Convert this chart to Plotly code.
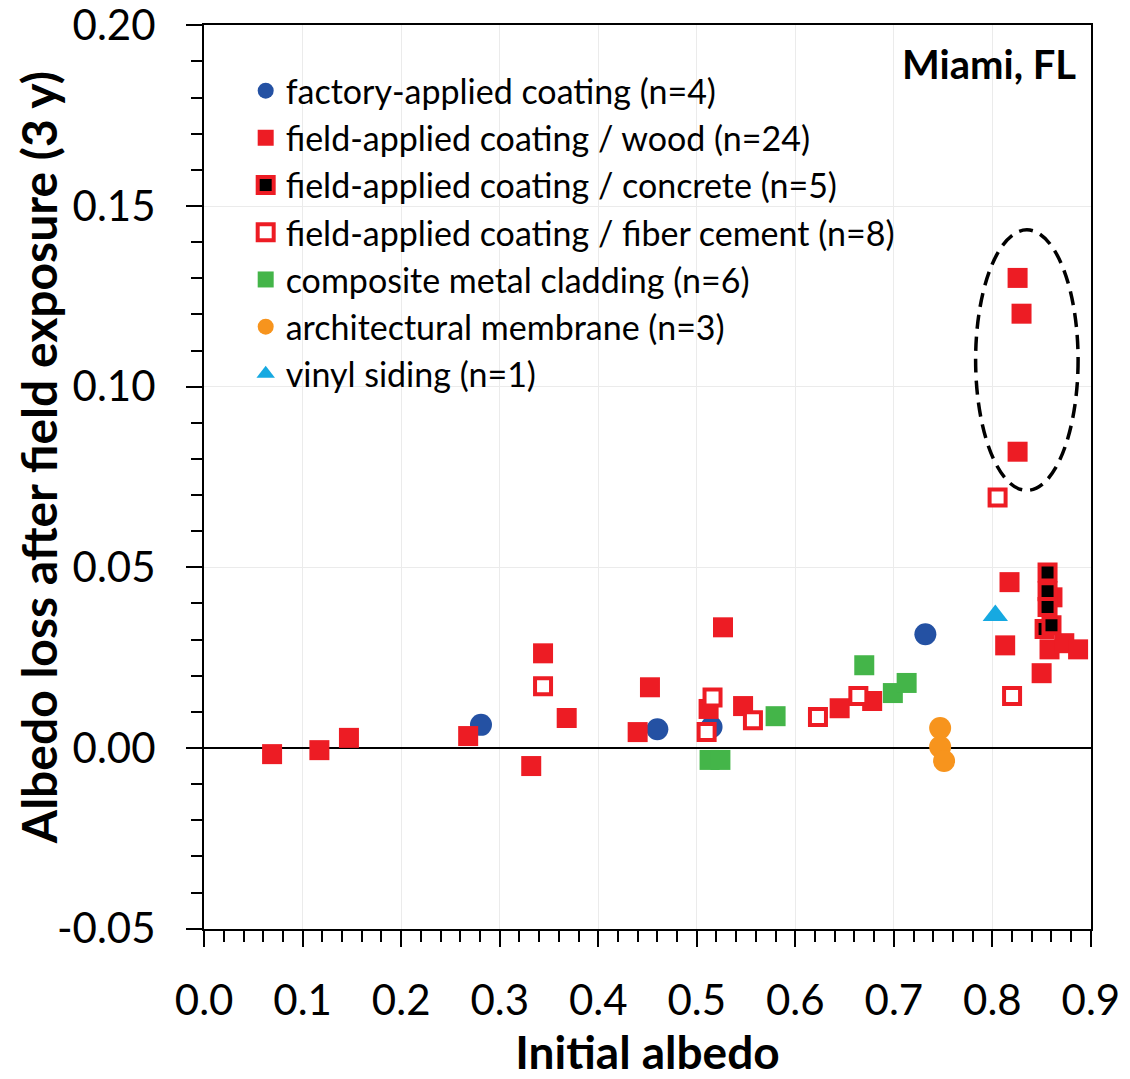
import plotly.graph_objects as go

# ---------------- data ----------------
factory_x = [0.281, 0.460, 0.515, 0.732]
factory_y = [0.0064, 0.0052, 0.0058, 0.0315]

wood_x = [0.069, 0.117, 0.147, 0.268, 0.332, 0.344, 0.368, 0.440, 0.4525, 0.512, 0.5266, 0.547,
          0.645, 0.678, 0.8256, 0.8296, 0.8256, 0.8174, 0.813, 0.861, 0.858, 0.873, 0.887, 0.850]
wood_y = [-0.0017, -0.0006, 0.0028, 0.0033, -0.0050, 0.0262, 0.0083, 0.0044, 0.0168, 0.0108, 0.0334, 0.0116,
          0.0110, 0.0130, 0.1301, 0.1202, 0.0820, 0.0459, 0.0284, 0.0417, 0.0273, 0.0290, 0.0273, 0.0207]

concrete_x = [0.856, 0.856, 0.856, 0.853, 0.860]
concrete_y = [0.0486, 0.0434, 0.0390, 0.0329, 0.0340]

fiber_x = [0.344, 0.516, 0.510, 0.557, 0.623, 0.664, 0.8053, 0.820]
fiber_y = [0.0171, 0.0140, 0.0044, 0.0077, 0.0086, 0.0144, 0.0693, 0.0144]

metal_x = [0.513, 0.524, 0.580, 0.670, 0.699, 0.713]
metal_y = [-0.0033, -0.0033, 0.0088, 0.0229, 0.0152, 0.0180]

membrane_x = [0.747, 0.747, 0.751]
membrane_y = [0.0055, 0.0003, -0.0036]

vinyl_x = [0.803]
vinyl_y = [0.0367]

x_ticks = [0.0, 0.1, 0.2, 0.3, 0.4, 0.5, 0.6, 0.7, 0.8, 0.9]
x_ticktext = ["0.0", "0.1", "0.2", "0.3", "0.4", "0.5", "0.6", "0.7", "0.8", "0.9"]
y_ticks = [-0.05, 0.00, 0.05, 0.10, 0.15, 0.20]
y_ticktext = ["-0.05", "0.00", "0.05", "0.10", "0.15", "0.20"]

# ---------------- figure ----------------
RED = "#ED1C24"
BLUE = "#2451A3"
GREEN = "#44B549"
ORANGE = "#F7941D"
CYAN = "#16A9E1"
FONT = "Lato"

fig = go.Figure()

def add(x, y, name, symbol, color, size, line_color=None, line_width=0):
    fig.add_trace(go.Scatter(
        x=x, y=y, mode="markers", name=name, legendgroup=name,
        marker=dict(symbol=symbol, color=color, size=size,
                    line=dict(color=line_color or color, width=line_width)),
        cliponaxis=False,
    ))

add(factory_x, factory_y, "factory-applied coating (n=4)", "circle", BLUE, 22)
add(wood_x, wood_y, "field-applied coating / wood (n=24)", "square", RED, 20)
add(concrete_x, concrete_y, "field-applied coating / concrete (n=5)", "square", "black", 16, RED, 4)
add(fiber_x, fiber_y, "field-applied coating / fiber cement (n=8)", "square", "white", 16, RED, 4)
add(metal_x, metal_y, "composite metal cladding (n=6)", "square", GREEN, 20)
add(membrane_x, membrane_y, "architectural membrane (n=3)", "circle", ORANGE, 22)
add(vinyl_x, vinyl_y, "vinyl siding (n=1)", "triangle-up", CYAN, 22)

# dashed ellipse around outliers
fig.add_shape(type="circle", xref="x", yref="y",
              x0=0.783, x1=0.887, y0=0.0713, y1=0.1434,
              line=dict(color="black", width=3.5, dash="14px,8px"))

fig.add_annotation(text="<b>Miami, FL</b>", xref="paper", yref="paper",
                   x=0.985, y=0.957, xanchor="right", yanchor="middle",
                   showarrow=False, font=dict(family=FONT, size=40, color="black"))

# y-axis title placed as rotated annotation
fig.add_annotation(text="<b>Albedo loss after field exposure (3 y)</b>", xref="paper", yref="paper",
                   x=-0.187, y=0.521, xanchor="center", yanchor="middle", textangle=-90,
                   showarrow=False, font=dict(family=FONT, size=48, color="black"))

axis_common = dict(
    showline=True, linecolor="black", linewidth=2, mirror=True,
    showgrid=True, gridcolor="#EBEBEB", gridwidth=1,
    ticks="outside", ticklen=16, tickwidth=2, tickcolor="black",
    tickfont=dict(family=FONT, size=42, color="black"),
    zeroline=False, automargin=False, ticklabeloverflow="allow",
)

fig.update_xaxes(
    range=[-0.0001, 0.9001], tickvals=x_ticks, ticktext=x_ticktext,
    ticklabelstandoff=18,
    minor=dict(dtick=0.02, tick0=0, ticks="outside", ticklen=11, tickwidth=2, tickcolor="black", showgrid=False),
    title=dict(text="<b>Initial albedo</b>", font=dict(family=FONT, size=46, color="black"), standoff=16),
    **axis_common,
)
fig.update_yaxes(
    range=[-0.0501, 0.2001], tickvals=y_ticks, ticktext=y_ticktext,
    ticklabelstandoff=22,
    minor=dict(dtick=0.01, tick0=0, ticks="outside", ticklen=11, tickwidth=2, tickcolor="black", showgrid=False),
    **axis_common,
)
fig.update_yaxes(zeroline=True, zerolinecolor="black", zerolinewidth=2)

fig.update_layout(
    width=1122, height=1071,
    margin=dict(l=196, r=39, t=17, b=150),
    paper_bgcolor="white", plot_bgcolor="white",
    font=dict(family=FONT, color="black"),
    showlegend=True,
    legend=dict(
        x=0.047, y=0.959, xanchor="left", yanchor="top",
        bgcolor="rgba(0,0,0,0)", borderwidth=0,
        font=dict(family=FONT, size=34, color="black"),
        traceorder="grouped", tracegroupgap=0,
        itemsizing="trace",
    ),
)

fig.write_html("out.html")
